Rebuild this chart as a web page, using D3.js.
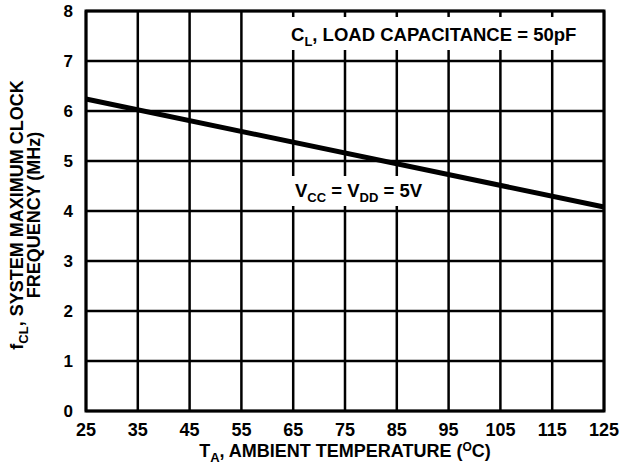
<!DOCTYPE html>
<html>
<head>
<meta charset="utf-8">
<script src="https://cdn.jsdelivr.net/npm/d3@7"></script>
<style>
body { margin: 0; background: #fff; }
text { font-family: "Liberation Sans", Arial, sans-serif; font-weight: bold; fill: #000; }
</style>
</head>
<body>
<svg id="chart"></svg>
<script>
// curve (straight line)
var temps = [25, 125];
var freq = [6.24, 4.08];
var xTicks = [25, 35, 45, 55, 65, 75, 85, 95, 105, 115, 125];
var yTicks = [0, 1, 2, 3, 4, 5, 6, 7, 8];

var width = 636, height = 470;
var mLeft = 86, mRight = 604, mTop = 11, mBottom = 411;

var svg = d3.select("#chart").attr("width", width).attr("height", height);

var x = d3.scaleLinear().domain([25, 125]).range([mLeft, mRight]);
var y = d3.scaleLinear().domain([0, 8]).range([mBottom, mTop]);

// grid
svg.append("g").selectAll("line").data(xTicks).enter().append("line")
	.attr("x1", function(d) { return x(d); }).attr("x2", function(d) { return x(d); })
	.attr("y1", mTop).attr("y2", mBottom)
	.attr("stroke", "#000").attr("stroke-width", 2.5);
svg.append("g").selectAll("line").data(yTicks).enter().append("line")
	.attr("y1", function(d) { return y(d); }).attr("y2", function(d) { return y(d); })
	.attr("x1", mLeft).attr("x2", mRight)
	.attr("stroke", "#000").attr("stroke-width", 2.5);

svg.append("rect").attr("x", mLeft).attr("y", mTop)
	.attr("width", mRight - mLeft).attr("height", mBottom - mTop)
	.attr("fill", "none").attr("stroke", "#000").attr("stroke-width", 3);

// tick labels
svg.append("g").selectAll("text").data(xTicks).enter().append("text")
	.attr("x", function(d) { return x(d); }).attr("y", 436)
	.attr("text-anchor", "middle").style("font-size", "18px")
	.text(function(d) { return d; });
svg.append("g").selectAll("text").data(yTicks).enter().append("text")
	.attr("x", 73).attr("y", function(d) { return y(d) + 6; })
	.attr("text-anchor", "end").style("font-size", "17px")
	.text(function(d) { return d; });

// annotation boxes (hide grid behind text)
svg.append("rect").attr("x", 282).attr("y", 17).attr("width", 302).attr("height", 33).attr("fill", "#fff");
svg.append("rect").attr("x", 286).attr("y", 176).attr("width", 152).attr("height", 30).attr("fill", "#fff");

// data line
var line = d3.line().x(function(d) { return x(d[0]); }).y(function(d) { return y(d[1]); });
svg.append("path").datum(d3.zip(temps, freq)).attr("d", line)
	.attr("fill", "none").attr("stroke", "#000").attr("stroke-width", 5);

function sub(t, main, s, fs) {
	t.append("tspan").text(main);
	t.append("tspan").attr("dy", 5).style("font-size", fs).text(s);
	return t.append("tspan").attr("dy", -5);
}

var t1 = svg.append("text").attr("x", 291).attr("y", 41).style("font-size", "18.5px");
sub(t1, "C", "L", "13px").text(", LOAD CAPACITANCE = 50pF");

var t2 = svg.append("text").attr("x", 295).attr("y", 197).style("font-size", "18.5px");
t2.append("tspan").text("V");
t2.append("tspan").attr("dy", 5).style("font-size", "13px").text("CC");
t2.append("tspan").attr("dy", -5).text(" = V");
t2.append("tspan").attr("dy", 5).style("font-size", "13px").text("DD");
t2.append("tspan").attr("dy", -5).text(" = 5V");

// axis titles
var xt = svg.append("text").attr("x", (mLeft + mRight) / 2).attr("y", 457)
	.attr("text-anchor", "middle").style("font-size", "18px");
sub(xt, "T", "A", "13px").text(", AMBIENT TEMPERATURE (");
xt.append("tspan").attr("dy", -6).style("font-size", "12px").text("O");
xt.append("tspan").attr("dy", 6).text("C)");

var yt = svg.append("text").attr("transform", "translate(23,215) rotate(-90)")
	.attr("text-anchor", "middle").style("font-size", "18px");
sub(yt, "f", "CL", "13px").text(", SYSTEM MAXIMUM CLOCK");
svg.append("text").attr("transform", "translate(40,215) rotate(-90)")
	.attr("text-anchor", "middle").style("font-size", "18px")
	.text("FREQUENCY (MHz)");
</script>
</body>
</html>
